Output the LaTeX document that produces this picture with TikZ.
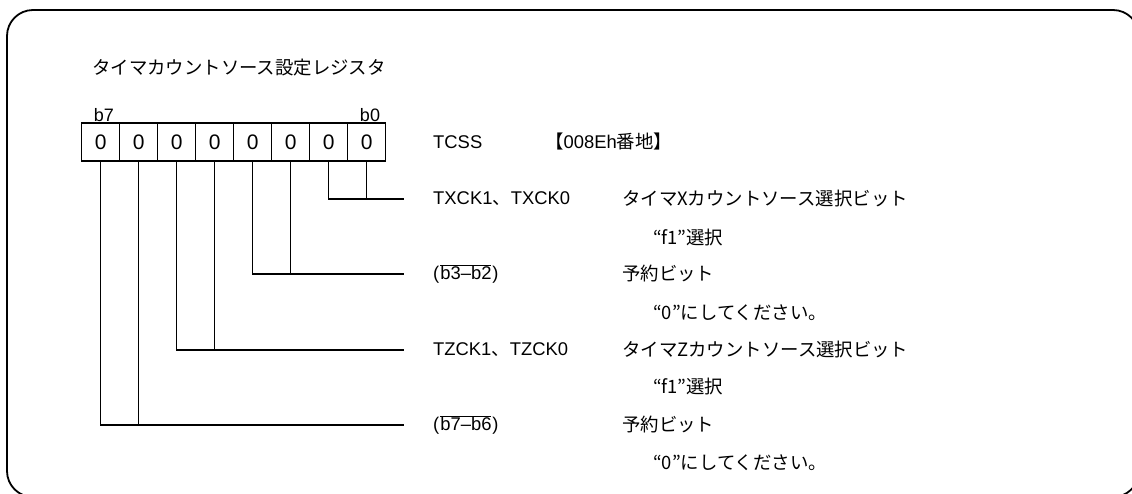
\documentclass[tikz,border=0pt]{standalone}
\usepackage{fontspec}
\setmainfont{Liberation Sans}
\newfontfamily\jp{Noto Sans CJK JP}
\newcommand{\ovl}[1]{$\overline{\hbox{#1}}$}
\begin{document}
\begin{tikzpicture}[x=1pt,y=-1pt,
  frame/.style={line width=1.8pt, rounded corners=26pt},
  cell/.style={draw, line width=1.2pt, minimum width=38pt, minimum height=38pt, inner sep=0pt, font=\fontsize{21}{21}\selectfont},
  conn/.style={line width=1.3pt},
  txt/.style={anchor=west, inner sep=0pt, font=\fontsize{18.4}{18.4}\selectfont},
  bit/.style={inner sep=0pt, font=\fontsize{18}{18}\selectfont}]
\useasboundingbox (0,0) rectangle (1132,493);
\draw[frame] (7,10) rectangle (1139,497);
\node[txt] (title) at (92,68) {\jp タイマカウントソース設定レジスタ};
\foreach \i/\b in {0/7,1/6,2/5,3/4,4/3,5/2,6/1,7/0}
  \node[cell] (c\b) at (100.7+38*\i,142) {0};
\node[bit] (b7) at (104,115) {b7};
\node[bit] (b0) at (370,115) {b0};
\node[txt] (tcss) at (433,142) {TCSS};
\node[txt] (addr) at (545,142) {{\jp【}008Eh{\jp 番地】}};
% endpoints
\coordinate (e1) at (404,199);
\coordinate (e2) at (404,274);
\coordinate (e3) at (404,350);
\coordinate (e4) at (404,425);
% connectors
\draw[conn] (c1.south) |- (e1);
\draw[conn] (c0.south) -- (c0.south |- e1);
\draw[conn] (c3.south) |- (e2);
\draw[conn] (c2.south) -- (c2.south |- e2);
\draw[conn] (c5.south) |- (e3);
\draw[conn] (c4.south) -- (c4.south |- e3);
\draw[conn] (c7.south) |- (e4);
\draw[conn] (c6.south) -- (c6.south |- e4);
% labels
\node[txt] (l1) at (433,199) {TXCK1{\jp 、}TXCK0};
\node[txt] (l2) at (433,274) {(\kern1pt\ovl{b3–b2}\kern1pt)};
\node[txt] (l3) at (433,350) {TZCK1{\jp 、}TZCK0};
\node[txt] (l4) at (433,425) {(\kern1pt\ovl{b7–b6}\kern1pt)};
\node[txt] (d1) at (622,199) {\jp タイマXカウントソース選択ビット};
\node[txt] (s1) at (653,238) {\jp “f1”選択};
\node[txt] (d2) at (622,274) {\jp 予約ビット};
\node[txt] (s2) at (653,313) {\jp “0”にしてください。};
\node[txt] (d3) at (622,350) {\jp タイマZカウントソース選択ビット};
\node[txt] (s3) at (653,387) {\jp “f1”選択};
\node[txt] (d4) at (622,425) {\jp 予約ビット};
\node[txt] (s4) at (653,463) {\jp “0”にしてください。};
\end{tikzpicture}
\end{document}
